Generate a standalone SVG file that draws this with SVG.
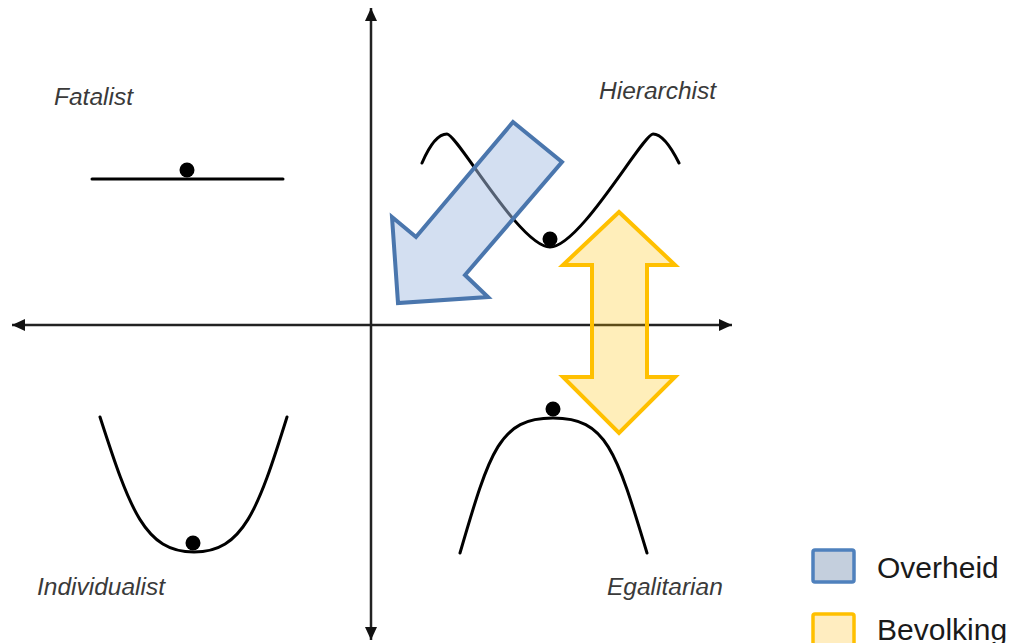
<svg xmlns="http://www.w3.org/2000/svg" width="1011" height="643" viewBox="0 0 1011 643">
  <style>
    .curve { fill: none; stroke: #000; stroke-width: 3; stroke-linecap: round; }
    .dot { fill: #000; }
    .lbl { font-family: "Liberation Sans", Arial, sans-serif; font-style: italic; font-size: 24.5px; fill: #3a3a3a; }
    .leg { font-family: "Liberation Sans", Arial, sans-serif; font-size: 30px; fill: #1a1a1a; }
    .axis { stroke: #222; stroke-width: 2.5; fill: none; }
  </style>
  <defs>
    <marker id="ah" viewBox="0 0 13 12" refX="13" refY="6" markerWidth="13" markerHeight="12" markerUnits="userSpaceOnUse" orient="auto-start-reverse">
      <path d="M0,0 L13,6 L0,12 z" fill="#111"/>
    </marker>
  </defs>
  <rect width="1011" height="643" fill="#fff"/>

  <g id="connectors">
    <line class="axis" x1="371" y1="640" x2="371" y2="8" marker-start="url(#ah)" marker-end="url(#ah)"/>
    <line class="axis" x1="12" y1="325" x2="732" y2="325" marker-start="url(#ah)" marker-end="url(#ah)"/>
  </g>

  <g id="fatalist">
    <line class="curve" x1="92" y1="179" x2="283" y2="179" stroke-linecap="butt"/>
    <circle class="dot" cx="187" cy="170" r="7.5"/>
    <text class="lbl" x="54" y="105">Fatalist</text>
  </g>

  <g id="hierarchist">
    <path class="curve" d="M422,163 C428,149 437,134 447,134 C457,134 520,247 550,247 C580,247 643,134 653,134 C663,134 672,149 679,163"/>
    <circle class="dot" cx="550" cy="239" r="7.5"/>
    <text class="lbl" x="599" y="99">Hierarchist</text>
  </g>

  <g id="individualist">
    <path class="curve" d="M100,417 C130,510 145,552 194,552 C243,552 258,510 287,417"/>
    <circle class="dot" cx="193" cy="543" r="7.5"/>
    <text class="lbl" x="37" y="595">Individualist</text>
  </g>

  <g id="egalitarian">
    <path class="curve" d="M460,553 C490,450 500,418 553,418 C606,418 616,450 647,553"/>
    <circle class="dot" cx="553" cy="409" r="7.5"/>
    <text class="lbl" x="607" y="595">Egalitarian</text>
  </g>

  <g id="overheid-arrow">
    <polygon points="513,122 562,162 465,275 488,297 398,303 392,217 416,237" fill="#a7c0e3" fill-opacity="0.5" stroke="#4a76ad" stroke-width="4" stroke-linejoin="miter"/>
  </g>

  <g id="bevolking-arrow">
    <polygon points="619,212 675,265 647,265 647,377 675,377 619,433 563,377 592,377 592,265 563,265" fill="#ffc000" fill-opacity="0.27" stroke="#ffc000" stroke-width="4"/>
  </g>

  <g id="legend-overheid">
    <rect x="813" y="550" width="41" height="32" rx="2" fill="#c4cfdd" stroke="#4f81bd" stroke-width="3.5"/>
    <text class="leg" x="877" y="578">Overheid</text>
  </g>
  <g id="legend-bevolking">
    <rect x="813" y="614" width="41" height="32" rx="2" fill="#ffedc0" stroke="#ffc000" stroke-width="3.5"/>
    <text class="leg" x="877" y="640">Bevolking</text>
  </g>
</svg>
